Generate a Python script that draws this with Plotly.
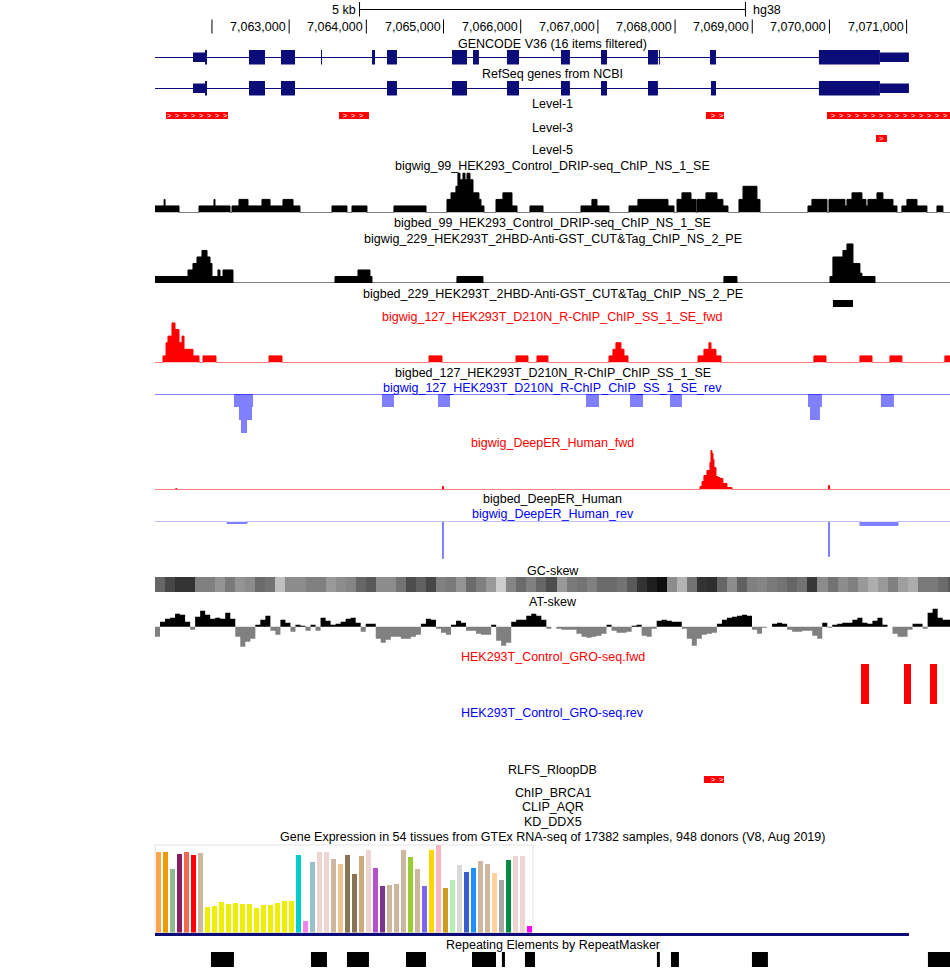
import plotly.graph_objects as go

W, H = 950, 968
VIEW_START, VIEW_END = 7061262, 7071562
DATA_LEFT = 155
BPPX = (VIEW_END - VIEW_START) / (W - DATA_LEFT)

FONT = "Liberation Sans, Arial, Helvetica, sans-serif"
FS = 12.5
NAVY = "#0c0c78"
RED = "#ff0000"
BLUE = "#0000ff"
LBLUE = "#8080ff"
GRAY = "#808080"

# ---------------------------------------------------------------- data
tick_positions = [7062000, 7063000, 7064000, 7065000, 7066000,
                  7067000, 7068000, 7069000, 7070000, 7071000]
scale_bar_bp = 5000

gene_tx_start, gene_tx_end = 7059000, 7071030
gene_cds_start, gene_cds_end = 7061910, 7070654
gencode_exon_start = [7061754, 7062480, 7062894, 7063413, 7064073, 7064268, 7065110, 7065382,
                      7065822, 7066522, 7067040, 7067649, 7067791, 7068452, 7069864]
gencode_exon_end = [7061936, 7062687, 7063076, 7063426, 7064112, 7064397, 7065304, 7065459,
                    7065978, 7066638, 7067118, 7067778, 7067804, 7068530, 7071030]
refseq_exon_start = [7061754, 7062480, 7062894, 7064268, 7065110, 7065822, 7066522, 7067040,
                     7067649, 7068465, 7069864]
refseq_exon_end = [7061936, 7062687, 7063076, 7064397, 7065304, 7065978, 7066638, 7067118,
                   7067778, 7068530, 7071030]

level1_start = [7061405, 7063646, 7068400, 7069968]
level1_end = [7062208, 7064034, 7068633, 7071700]
level3_start = [7070603]
level3_end = [7070745]
bigbed229_start = [7070045]
bigbed229_end = [7070305]
rlfs_start = [7068374]
rlfs_end = [7068633]

drip = [(7061262, 1), (7061380, 2), (7061392, 1), (7061573, 0), (7061832, 1), (7062026, 2),
        (7062039, 1), (7062234, 0), (7062260, 1), (7062350, 2), (7062467, 1), (7062648, 2),
        (7062752, 1), (7062920, 2), (7063050, 1), (7063140, 0), (7063555, 1), (7063749, 0),
        (7063814, 1), (7064008, 0), (7064358, 1), (7064773, 0), (7065045, 2), (7065097, 3),
        (7065161, 4), (7065187, 6), (7065213, 5), (7065252, 6), (7065278, 5), (7065304, 6),
        (7065343, 5), (7065382, 3), (7065459, 2), (7065485, 1), (7065524, 0), (7065680, 2),
        (7065770, 3), (7065887, 1), (7065952, 0), (7066120, 1), (7066289, 0), (7066781, 1),
        (7066923, 2), (7066988, 1), (7067144, 0), (7067403, 1), (7067519, 2), (7067908, 1),
        (7067986, 0), (7068025, 2), (7068089, 3), (7068206, 2), (7068271, 0), (7068284, 2),
        (7068400, 3), (7068543, 2), (7068620, 1), (7068685, 0), (7068828, 2), (7068880, 4),
        (7069061, 2), (7069100, 0), (7069722, 1), (7069773, 2), (7069968, 0), (7069994, 2),
        (7070201, 1), (7070227, 2), (7070292, 3), (7070421, 2), (7070473, 1), (7070499, 2),
        (7070616, 3), (7070693, 2), (7070823, 1), (7070875, 0), (7070939, 1), (7071004, 2),
        (7071134, 1), (7071263, 0), (7071393, 1), (7071470, 0)]

cuttag = [(7061262, 1), (7061690, 2), (7061754, 3), (7061806, 4), (7061871, 5), (7061936, 4),
          (7061975, 3), (7062000, 1), (7062078, 2), (7062104, 1), (7062143, 2), (7062272, 0),
          (7063594, 1), (7063892, 2), (7064047, 1), (7064073, 0), (7065174, 1), (7065511, 0),
          (7068633, 1), (7068802, 0), (7070007, 1), (7070045, 4), (7070175, 5), (7070227, 6),
          (7070305, 3), (7070395, 1.5), (7070421, 1), (7070590, 0)]

rchip_fwd = [(7061262, 0), (7061366, 1), (7061405, 3), (7061430, 4), (7061482, 6), (7061521, 5),
             (7061573, 3), (7061612, 4), (7061638, 2), (7061754, 1), (7061832, 0), (7061884, 1),
             (7062052, 0), (7062739, 1), (7062907, 0), (7064812, 1), (7064980, 0), (7065939, 1),
             (7066094, 0), (7066211, 1), (7066353, 0), (7067144, 1), (7067195, 2), (7067234, 3),
             (7067299, 2), (7067338, 1), (7067390, 0), (7068297, 1), (7068374, 2), (7068439, 3),
             (7068465, 2), (7068530, 1), (7068595, 0), (7069799, 1), (7069955, 0), (7070395, 1),
             (7070551, 0), (7070784, 1), (7070939, 0), (7071496, 1)]

rchip_rev = [(7061262, 0), (7062285, -1), (7062350, -2), (7062376, -3), (7062454, -2),
             (7062519, -1), (7062532, 0), (7064203, -1), (7064358, 0), (7064928, -1),
             (7065084, 0), (7066846, -1), (7067014, 0), (7067416, -1), (7067584, 0),
             (7067934, -1), (7068089, 0), (7069722, -1), (7069748, -2), (7069877, -1),
             (7069903, 0), (7070667, -1), (7070836, 0)]

deeper_fwd = [(7061262, 0), (7061530, 1), (7061545, 0), (7064987, 3), (7065000, 0),
              (7068323, 3), (7068349, 8), (7068374, 14), (7068413, 19), (7068452, 27),
              (7068465, 39), (7068478, 36), (7068491, 30), (7068504, 22), (7068530, 13),
              (7068555, 12), (7068581, 11), (7068620, 6), (7068672, 2), (7068737, 0),
              (7069988, 4), (7070001, 0)]

deeper_rev = [(7061262, 0), (7062195, -2), (7062454, 0), (7064987, -37), (7065000, 0),
              (7069988, -35), (7070001, 0), (7070395, -4), (7070888, 0)]

gc_window_bp = 130
gc_skew_gray = [0.40, 0.28, 0.20, 0.20, 0.50, 0.50, 0.58, 0.48, 0.58, 0.55,
                0.42, 0.45, 0.75, 0.55, 0.55, 0.50, 0.50, 0.60, 0.55, 0.52,
                0.40, 0.35, 0.55, 0.55, 0.45, 0.30, 0.38, 0.28, 0.50, 0.48,
                0.58, 0.42, 0.50, 0.60, 0.80, 0.52, 0.42, 0.50, 0.40, 0.30,
                0.60, 0.48, 0.45, 0.50, 0.42, 0.42, 0.45, 0.35, 0.20, 0.12,
                0.06, 0.55, 0.70, 0.45, 0.20, 0.18, 0.40, 0.55, 0.38, 0.50,
                0.52, 0.48, 0.45, 0.40, 0.45, 0.22, 0.55, 0.45, 0.55, 0.50,
                0.60, 0.68, 0.60, 0.50, 0.62, 0.68, 0.48, 0.48, 0.42, 0.35]

at_window_bp = 65
at_skew = [-10, 5, 8, 9, 13, 12, 5, -3, 10, 16, 12, 8, 9, 8, 14, 8, -10, -20, -15, -12,
           2, 7, 11, -4, -8, 7, 4, -5, 2, 1, -4, 2, -4, 9, 6, 2, 3, 5, 8, 9,
           4, -5, 3, 3, -12, -16, -13, -10, -10, -12, -12, -10, -8, 3, 8, 7, -2, -6, -8, 2,
           6, 4, -4, -4, -7, -8, -8, 2, -14, -19, -16, 5, 7, 7, 11, 13, 11, 7, -2, 0,
           -2, -3, -3, -3, -7, -10, -11, -10, -9, -7, 2, -4, -6, -6, -5, 1, 2, -9, -10, -2,
           6, 7, 6, 5, 5, -2, -12, -19, -12, -8, -7, -6, 3, 7, 9, 10, 11, 12, 11, -3,
           -7, -1, 0, 3, 4, 3, -3, -5, -5, -4, -4, -9, -12, 4, -1, 2, 3, 4, 4, 7,
           9, 4, 3, 6, 9, 2, 0, -7, -10, -10, -3, 3, 3, -2, 14, 18, 9, 7, 7]

gro_fwd_start = [7070408, 7070965, 7071302]
gro_fwd_end = [7070512, 7071056, 7071393]
gro_fwd_value = [1, 1, 1]

rmsk_start = [7061987, 7063283, 7063749, 7064514, 7065369, 7065757, 7066055,
              7067765, 7067947, 7068996, 7071276]
rmsk_end = [7062285, 7063490, 7064034, 7064773, 7065680, 7065796, 7066185,
            7067803, 7068050, 7069203, 7071562]

gtex_tissues = ["Adipose Subcutaneous", "Adipose Visceral", "Adrenal Gland", "Artery Aorta",
                "Artery Coronary", "Artery Tibial", "Bladder", "Brain Amygdala",
                "Brain Anterior Cingulate", "Brain Caudate", "Brain Cerebellar Hemisphere",
                "Brain Cerebellum", "Brain Cortex", "Brain Frontal Cortex", "Brain Hippocampus",
                "Brain Hypothalamus", "Brain Nucleus Accumbens", "Brain Putamen",
                "Brain Spinal Cord", "Brain Substantia Nigra", "Breast", "EBV Lymphocytes",
                "Cultured Fibroblasts", "Cervix Ectocervix", "Cervix Endocervix",
                "Colon Sigmoid", "Colon Transverse", "Esophagus GE Junction",
                "Esophagus Mucosa", "Esophagus Muscularis", "Fallopian Tube",
                "Heart Atrial Appendage", "Heart Left Ventricle", "Kidney Cortex",
                "Kidney Medulla", "Liver", "Lung", "Minor Salivary Gland", "Muscle Skeletal",
                "Nerve Tibial", "Ovary", "Pancreas", "Pituitary", "Prostate",
                "Skin Not Sun Exposed", "Skin Sun Exposed", "Small Intestine", "Spleen",
                "Stomach", "Testis", "Thyroid", "Uterus", "Vagina", "Whole Blood"]
gtex_colors = ["#FFA54F", "#EE9A00", "#8FBC8F", "#8B1C62", "#EE6A50", "#FF0000", "#CDB79E",
               "#EEEE00", "#EEEE00", "#EEEE00", "#EEEE00", "#EEEE00", "#EEEE00", "#EEEE00",
               "#EEEE00", "#EEEE00", "#EEEE00", "#EEEE00", "#EEEE00", "#EEEE00", "#00CDCD",
               "#EE82EE", "#9AC0CD", "#EED5D2", "#EED5D2", "#CDB79E", "#EEC591", "#8B7355",
               "#8B7355", "#CDAA7D", "#EED5D2", "#B452CD", "#7A378B", "#CDB79E", "#CDB79E",
               "#CDB79E", "#9ACD32", "#CDB79E", "#7A67EE", "#FFD700", "#FFB6C1", "#CD9B1D",
               "#B4EEB4", "#D9D9D9", "#3A5FCD", "#1E90FF", "#CDB79E", "#CDB79E", "#FFD39B",
               "#A6A6A6", "#008B45", "#EED5D2", "#EED5D2", "#FF00FF"]
gtex_tpm = [80.3, 80.3, 63.3, 78.3, 80.3, 77.3, 79.3, 25.3, 26.3, 30.3, 28.3, 29.3, 28.3, 28.3,
            24.3, 27.3, 27.3, 29.3, 31.3, 31.3, 77.3, 11.3, 70.3, 80.3, 80.3, 73.3, 68.3, 77.3,
            58.3, 76.3, 82.3, 64.3, 46.3, 47.3, 48.3, 82.3, 75.3, 63.3, 46.3, 82.3, 87.3, 44.3,
            52.3, 67.3, 60.3, 64.3, 71.3, 68.3, 59.3, 52.3, 72.3, 76.3, 76.3, 6.3]

track_labels = [
    ("GENCODE V36 (16 items filtered)", 44, "black"),
    ("RefSeq genes from NCBI", 73.5, "black"),
    ("Level-1", 104, "black"),
    ("Level-3", 128, "black"),
    ("Level-5", 150, "black"),
    ("bigwig_99_HEK293_Control_DRIP-seq_ChIP_NS_1_SE", 166, "black"),
    ("bigbed_99_HEK293_Control_DRIP-seq_ChIP_NS_1_SE", 223, "black"),
    ("bigwig_229_HEK293T_2HBD-Anti-GST_CUT&amp;Tag_ChIP_NS_2_PE", 239, "black"),
    ("bigbed_229_HEK293T_2HBD-Anti-GST_CUT&amp;Tag_ChIP_NS_2_PE", 293.5, "black"),
    ("bigwig_127_HEK293T_D210N_R-ChIP_ChIP_SS_1_SE_fwd", 317, RED),
    ("bigbed_127_HEK293T_D210N_R-ChIP_ChIP_SS_1_SE", 373, "black"),
    ("bigwig_127_HEK293T_D210N_R-ChIP_ChIP_SS_1_SE_rev", 388, BLUE),
    ("bigwig_DeepER_Human_fwd", 443, RED),
    ("bigbed_DeepER_Human", 499, "black"),
    ("bigwig_DeepER_Human_rev", 514, BLUE),
    ("GC-skew", 571, "black"),
    ("AT-skew", 601.5, "black"),
    ("HEK293T_Control_GRO-seq.fwd", 657, RED),
    ("HEK293T_Control_GRO-seq.rev", 713, BLUE),
    ("RLFS_RloopDB", 770, "black"),
    ("ChIP_BRCA1", 792.5, "black"),
    ("CLIP_AQR", 807, "black"),
    ("KD_DDX5", 822, "black"),
    ("Gene Expression in 54 tissues from GTEx RNA-seq of 17382 samples, 948 donors (V8, Aug 2019)", 836.5, "black"),
    ("Repeating Elements by RepeatMasker", 945, "black"),
]

# ---------------------------------------------------------------- helpers
shapes, annotations = [], []


def paper(p):
    return 1 - p / H


def dom(top, bottom):
    return [paper(bottom), paper(top)]


def rect(x0, x1, top, bottom, color, layer="above"):
    x0, x1 = max(x0, VIEW_START), min(x1, VIEW_END)
    shapes.append(dict(type="rect", xref="x", yref="paper", x0=x0, x1=x1,
                       y0=paper(bottom), y1=paper(top), fillcolor=color,
                       line=dict(width=0), layer=layer))


def hline(x0, x1, row, color, width=1):
    x0, x1 = max(x0, VIEW_START), min(x1, VIEW_END)
    shapes.append(dict(type="line", xref="x", yref="paper", x0=x0, x1=x1,
                       y0=paper(row), y1=paper(row), line=dict(color=color, width=width),
                       layer="above"))


def text(t, x, row, color="black", xref="x domain", xanchor="center", xshift=0, size=FS):
    annotations.append(dict(text=t, x=x, xref=xref, y=paper(row), yref="paper",
                            xanchor=xanchor, yanchor="middle", xshift=xshift,
                            showarrow=False, font=dict(family=FONT, size=size, color=color)))


fig = go.Figure()


def step(pairs, yaxis, color, fill, width=1):
    xs = [p[0] for p in pairs] + [VIEW_END]
    ys = [p[1] for p in pairs] + [pairs[-1][1]]
    fig.add_trace(go.Scatter(x=xs, y=ys, mode="lines", xaxis="x", yaxis=yaxis,
                             line=dict(shape="hv", color=color, width=width),
                             fill="tozeroy", fillcolor=fill, hoverinfo="skip"))


chev_bp = 8 * BPPX
chev_grid0 = VIEW_START + 6 * BPPX
chev_x, chev_y = [], []


def features(starts, ends, top, bottom, color, chevrons=False):
    for s, e in zip(starts, ends):
        rect(s, e, top, bottom, color, layer="below")
        if chevrons:
            k = 0
            while chev_grid0 + k * chev_bp < VIEW_END:
                p = chev_grid0 + k * chev_bp
                if s + 2 * BPPX < p < min(e, VIEW_END) - 2 * BPPX:
                    chev_x.append(p)
                    chev_y.append((top + bottom) / 2)
                k += 1


def gene(ex_s, ex_e, row, full_top, full_bot, utr_top, utr_bot):
    hline(gene_tx_start, gene_tx_end, row, NAVY)
    for s, e in zip(ex_s, ex_e):
        if s < gene_cds_start:
            rect(s, min(e, gene_cds_start), utr_top, utr_bot, NAVY)
        if e > gene_cds_end:
            rect(max(s, gene_cds_end), e, utr_top, utr_bot, NAVY)
        cs, ce = max(s, gene_cds_start), min(e, gene_cds_end)
        if ce > cs:
            rect(cs, ce, full_top, full_bot, NAVY)


# ---------------------------------------------------------------- ruler
mid = (VIEW_START + VIEW_END) / 2
sb0, sb1 = mid - scale_bar_bp / 2, mid + scale_bar_bp / 2
hline(sb0, sb1, 9.5, "black")
for xb in (sb0, sb1):
    shapes.append(dict(type="line", xref="x", yref="paper", x0=xb, x1=xb,
                       y0=paper(16.5), y1=paper(2), line=dict(color="black", width=1)))
text(f"{scale_bar_bp // 1000} kb", sb0, 9.5, xref="x", xanchor="right", xshift=-2)
text("hg38", sb1, 9.5, xref="x", xanchor="left", xshift=6)

for t in tick_positions:
    shapes.append(dict(type="line", xref="x", yref="paper", x0=t, x1=t,
                       y0=paper(33.5), y1=paper(19.5), line=dict(color="black", width=1)))
    if t - 60 * BPPX > VIEW_START:
        text(f"{t:,}", t, 27, xref="x", xanchor="right", xshift=-1)

# ---------------------------------------------------------------- genes
gene(gencode_exon_start, gencode_exon_end, 57.5, 50, 64.5, 52.5, 62)
gene(refseq_exon_start, refseq_exon_end, 88.5, 81, 95.5, 83.5, 93)

# ---------------------------------------------------------------- bed-like features
features(level1_start, level1_end, 112, 119, RED, chevrons=True)
features(level3_start, level3_end, 135, 142, RED, chevrons=True)
features(bigbed229_start, bigbed229_end, 300, 307, "black")
features(rlfs_start, rlfs_end, 776, 783, RED, chevrons=True)
features(rmsk_start, rmsk_end, 952, 967, "black")

# ---------------------------------------------------------------- wiggles
step(drip, "y2", "black", "black")
step(cuttag, "y3", "black", "black")
step(rchip_fwd, "y4", RED, RED)
step(rchip_rev, "y5", LBLUE, LBLUE, width=0)
shapes.append(dict(type="line", xref="x", yref="y5", x0=VIEW_START, x1=VIEW_END, y0=0, y1=0,
                   line=dict(color=BLUE, width=1)))
step(deeper_fwd, "y6", RED, RED)
step(deeper_rev, "y7", LBLUE, LBLUE)

gc_edges = [VIEW_START + i * gc_window_bp for i in range(len(gc_skew_gray) + 1)]
fig.add_trace(go.Heatmap(z=[gc_skew_gray], x=gc_edges, y=[0], xaxis="x", yaxis="y8",
                         colorscale=[[0, "black"], [1, "white"]], zmin=0, zmax=1,
                         showscale=False, hoverinfo="skip"))

at_edges = [VIEW_START + i * at_window_bp for i in range(len(at_skew))]
step(list(zip(at_edges, [max(v, 0) for v in at_skew])), "y9", "black", "black", width=0)
step(list(zip(at_edges, [min(v, 0) for v in at_skew])), "y9", GRAY, GRAY, width=0)

fig.add_trace(go.Bar(x=[(s + e) / 2 for s, e in zip(gro_fwd_start, gro_fwd_end)],
                     y=gro_fwd_value, width=[e - s for s, e in zip(gro_fwd_start, gro_fwd_end)],
                     marker=dict(color=RED, line=dict(width=0)), xaxis="x", yaxis="y10",
                     hoverinfo="skip"))

# chevrons (strand marks on bed features)
fig.add_trace(go.Scatter(x=chev_x, y=chev_y, mode="text", text=[">"] * len(chev_x),
                         textfont=dict(family=FONT, size=8, color="white"),
                         textposition="middle center",
                         xaxis="x", yaxis="y", hoverinfo="skip"))

# ---------------------------------------------------------------- GTEx
fig.add_trace(go.Bar(x=list(range(len(gtex_tpm))), y=gtex_tpm, width=0.71,
                     marker=dict(color=gtex_colors, line=dict(width=0)),
                     hovertext=gtex_tissues, xaxis="x2", yaxis="y11"))
shapes.append(dict(type="rect", xref="x2 domain", yref="y11 domain", x0=0, x1=1, y0=0, y1=1,
                   line=dict(color="#e4e4e4", width=1), fillcolor="rgba(0,0,0,0)", layer="below"))
hline(gene_tx_start, gene_tx_end, 934.5, NAVY, width=3)

for t, row, c in track_labels:
    text(t, 0.5, row, color=c)

# ---------------------------------------------------------------- layout
ax = dict(visible=False, fixedrange=True)
fig.update_layout(
    width=W, height=H, margin=dict(l=0, r=0, t=0, b=0),
    paper_bgcolor="white", plot_bgcolor="rgba(0,0,0,0)", showlegend=False, bargap=0,
    xaxis=dict(domain=[DATA_LEFT / W, 1], range=[VIEW_START, VIEW_END], anchor="y", **ax),
    xaxis2=dict(domain=[DATA_LEFT / W, 533 / W], range=[-0.5, 53.5], anchor="y11", **ax),
    yaxis=dict(domain=[0, 1], range=[H, 0], anchor="x", **ax),
    yaxis2=dict(domain=dom(171.5, 212.5), range=[0, 6.26], anchor="x", **ax),
    yaxis3=dict(domain=dom(242, 283), range=[0, 6.3], anchor="x", **ax),
    yaxis4=dict(domain=dom(322, 362.5), range=[0, 6.14], anchor="x", **ax),
    yaxis5=dict(domain=dom(394, 434), range=[-3.08, 0], anchor="x", **ax),
    yaxis6=dict(domain=dom(449, 489.5), range=[0, 40.5], anchor="x", **ax),
    yaxis7=dict(domain=dom(521.5, 561.5), range=[-40, 0], anchor="x", **ax),
    yaxis8=dict(domain=dom(577, 592), range=[-0.5, 0.5], anchor="x", **ax),
    yaxis9=dict(domain=dom(606, 647), range=[-20.3, 20.7], anchor="x", **ax),
    yaxis10=dict(domain=dom(664, 704), range=[0, 1], anchor="x", **ax),
    yaxis11=dict(domain=dom(845, 932.5), range=[0, 87.5], anchor="x2", **ax),
    shapes=shapes, annotations=annotations,
)

fig.write_html("out.html", config={"displayModeBar": False, "staticPlot": True},
               post_script="document.body.style.margin='0px';")
